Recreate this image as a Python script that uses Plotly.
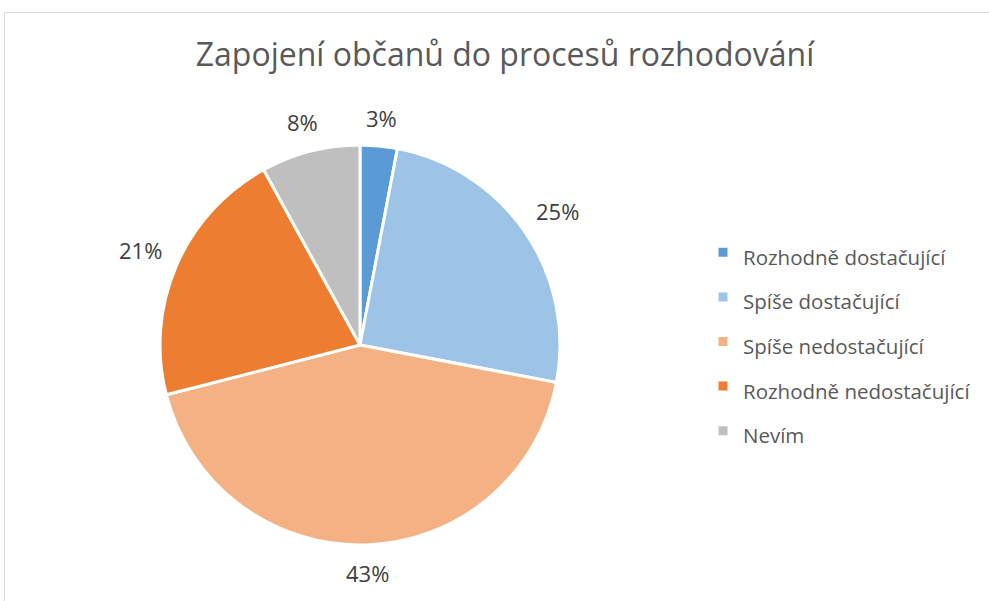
import math
import plotly.graph_objects as go

categories = ["Rozhodně dostačující", "Spíše dostačující", "Spíše nedostačující",
              "Rozhodně nedostačující", "Nevím"]
values = [3, 25, 43, 21, 8]
colors = ["#5B9BD5", "#9DC3E6", "#F4B183", "#ED7D31", "#BFBFBF"]
title_text = "Zapojení občanů do procesů rozhodování"

W, H = 989, 601
cx, cy, r = 360, 345, 200          # pie centre / radius in pixels
label_gap, char_w, line_h = 15, 14, 24

fig = go.Figure(go.Pie(
    labels=[f"<span style='font-size:20.5px'>{c}</span>" for c in categories],
    values=values,
    sort=False,
    direction="clockwise",
    rotation=0,
    marker=dict(colors=colors, line=dict(color="white", width=3)),
    textinfo="none",
    hoverinfo="skip",
    domain=dict(x=[(cx - r) / W, (cx + r) / W], y=[(H - cy - r) / H, (H - cy + r) / H]),
))

# percentage labels placed outside the slices (Excel "best fit" style)
total = sum(values)
annotations = []
cum = 0
for v in values:
    frac = (cum + v / 2) / total
    cum += v
    th = 2 * math.pi * frac
    txt = f"{round(100 * v / total)}%"
    w = char_w * len(txt)
    R = r + label_gap + (w / 2) * abs(math.sin(th)) + (line_h / 2) * abs(math.cos(th))
    px = cx + R * math.sin(th)
    py = cy - R * math.cos(th)
    annotations.append(dict(
        x=px / W, y=1 - py / H, xref="paper", yref="paper",
        text=txt, showarrow=False, xanchor="center", yanchor="middle",
        font=dict(family="Open Sans", size=22, color="#404040"),
    ))

fig.update_layout(
    width=W, height=H,
    margin=dict(l=0, r=0, t=0, b=0),
    paper_bgcolor="white",
    title=dict(text=title_text, x=505 / W, xanchor="center", y=1 - 55 / H, yanchor="middle",
               font=dict(family="Open Sans", size=32, color="#595959")),
    legend=dict(x=703 / W, xanchor="left", y=1 - 225 / H, yanchor="top",
                font=dict(family="Open Sans", size=32, color="#595959"),
                itemwidth=30, bgcolor="rgba(0,0,0,0)"),
    annotations=annotations,
    shapes=[dict(type="rect", xref="paper", yref="paper", x0=4.5 / W, x1=1.02,
                 y0=-0.02, y1=1 - 12.5 / H, line=dict(color="#D9D9D9", width=1))],
)

fig.write_html("out.html", config={"displayModeBar": False},
               post_script="document.body.style.margin='0';")
